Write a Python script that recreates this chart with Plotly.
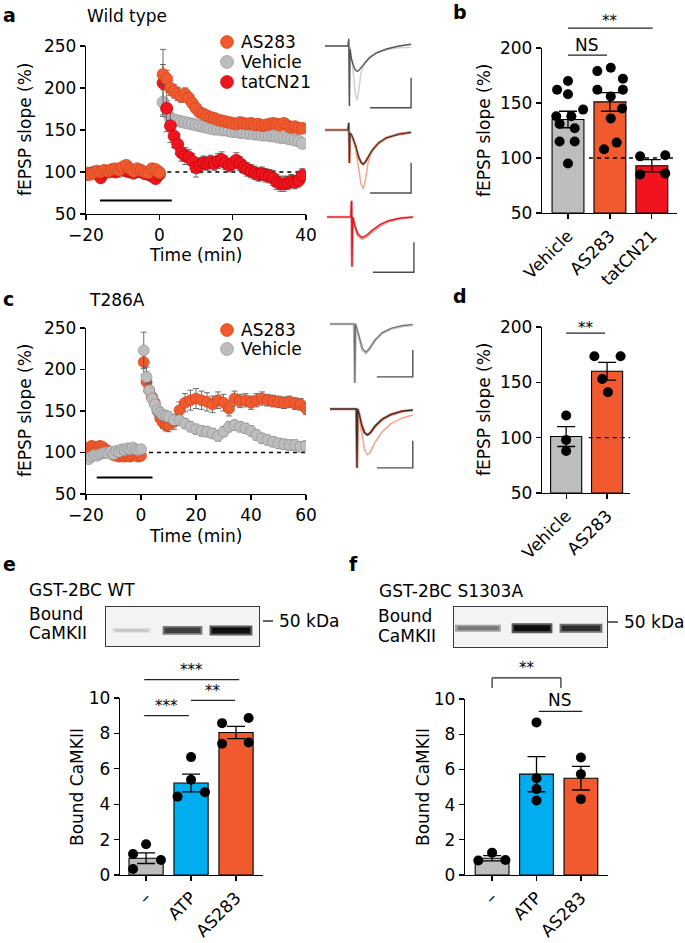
import plotly.graph_objects as go

W, H = 685, 943
FONT = "DejaVu Sans"
C_AS = "#F15A2E"
C_VEH = "#BDBDBF"
C_TAT = "#F0141E"
C_ATP = "#00AEEF"

# ---------------- data ----------------
# panel a (wild type time course)
a_time = list(range(-20, 1)) + list(range(1, 40))
a_as283 = [98, 97, 99, 101, 100, 102, 101, 103, 104, 102, 106, 108, 104, 101, 104, 102, 100, 99, 104, 103, 99,
           216, 211, 200, 196, 193, 190, 193, 188, 182, 176, 171, 169, 167, 165, 164, 162, 161, 160, 159, 158,
           157, 159, 158, 157, 158, 156, 157, 155, 156, 157, 158, 157, 156, 158, 155, 153, 154, 152, 152]
a_as283_err = [3] * 21 + [12, 10, 9, 8, 8, 7, 7, 6, 6, 6] + [5] * 29
a_vehicle = [99, 98, 100, 100, 99, 101, 100, 102, 101, 100, 103, 102, 100, 98, 101, 100, 99, 98, 100, 101, 100,
             183, 175, 164, 162, 161, 160, 159, 158, 157, 156, 155, 154, 153, 152, 151, 151, 150, 150, 149, 148,
             148, 147, 147, 146, 146, 145, 145, 144, 144, 143, 143, 142, 141, 141, 140, 139, 138, 137, 134]
a_vehicle_err = [3] * 21 + [15, 10, 7, 5, 5] + [4] * 34
a_tat = [97, 98, 99, 98, 93, 99, 100, 101, 100, 102, 103, 101, 100, 99, 101, 100, 98, 97, 95, 92, 97,
         206, 176, 155, 143, 133, 123, 119, 118, 113, 105, 108, 111, 110, 112, 110, 113, 115, 111, 108, 110,
         114, 110, 106, 103, 101, 99, 97, 98, 96, 95, 93, 88, 86, 86, 87, 89, 88, 90, 96]
a_tat_err = [4] * 21 + [40, 28, 20, 14, 12, 10, 10, 9, 9, 11, 9, 8, 8, 8, 8, 9, 9, 8, 8, 8,
                        9, 8, 8, 8, 8, 8, 8, 8, 8, 8, 9, 9, 9, 9, 8, 8, 8, 8, 8]
a_drug_bar = [-16.2, 3.4]   # application period (min)

# panel c (T286A time course)
c_time = list(range(-20, 1)) + list(range(1, 11)) + list(range(12, 61, 2))
c_as283 = [104, 106, 108, 107, 105, 108, 107, 104, 102, 100, 97, 96, 95, 96, 95, 96, 95, 96, 97, 95, 96,
           209, 185, 175, 167, 160, 150, 141, 136, 133, 133,
           137, 151, 160, 163, 165, 163, 161, 158, 163, 160, 153, 165, 162, 163, 160, 163, 165, 163, 162,
           161, 160, 161, 159, 158, 153]
c_as283_err = [4] * 21 + [15, 12, 10, 8, 8, 7, 7, 7, 7, 8] + [9, 10, 11, 12, 12, 11, 11, 10, 10, 10, 9, 9, 8,
                                                            8, 8, 8, 8, 7, 7, 7, 7, 7, 7, 7, 7]
c_vehicle = [93, 92, 95, 97, 96, 98, 99, 100, 99, 101, 98, 102, 101, 104, 103, 105, 104, 106, 104, 103, 104,
             223, 191, 175, 165, 158, 151, 148, 145, 144, 143,
             139, 139, 135, 131, 128, 126, 125, 123, 120, 125, 131, 133, 131, 129, 126, 121, 117, 115, 113,
             111, 110, 109, 109, 107, 108]
c_vehicle_err = [4] * 21 + [22, 12, 9, 8, 7, 7, 6, 6, 6, 6] + [6] * 25
c_drug_bar = [-16.1, 4.2]

# panel b
b_groups = ["Vehicle", "AS283", "tatCN21"]
b_mean = [135, 151, 93]
b_sem = [7.5, 8.5, 5.5]
b_pts = [[170, 162, 158, 144, 138, 138, 131, 127, 115, 115, 95],
         [179, 182, 172, 162, 162, 156, 145, 136, 114, 108],
         [101.5, 102.5, 85, 86]]

# panel d
d_groups = ["Vehicle", "AS283"]
d_mean = [101, 160]
d_sem = [9, 8]
d_pts = [[120, 98, 88], [173.5, 173.5, 153, 141]]

# panel e
e_groups = ["\u2013", "ATP", "AS283"]
e_mean = [0.95, 5.2, 8.05]
e_sem = [0.3, 0.5, 0.35]
e_pts = [[1.19, 1.74, 0.85, 0.34], [6.66, 5.38, 4.43, 4.68], [8.58, 8.87, 7.42, 7.49]]
e_band_intensity = [0.12, 0.78, 1.0]

# panel f
f_groups = ["\u2013", "ATP", "AS283"]
f_mean = [0.95, 5.73, 5.5]
f_sem = [0.15, 1.0, 0.67]
f_pts = [[0.82, 1.27, 0.85], [8.67, 5.5, 4.88, 4.23], [6.68, 5.73, 4.31]]
f_band_intensity = [0.5, 1.0, 0.85]

# example fEPSP traces (time ms, mV)
tr_a1_t = [0, 5.6, 5.8, 5.95, 6.1, 6.4, 6.9, 7.4, 7.8, 8.2, 8.8, 9.6, 10.8, 12.5, 15, 18, 21]
tr_a1_base = [0, 0, 0.1, -1.0, 0.0, -0.15, -0.45, -0.8, -0.9, -0.75, -0.45, -0.28, -0.18, -0.11, -0.06, -0.03, -0.02]
tr_a1_post = [0, 0, 0.12, -1.0, -0.05, -0.2, -0.32, -0.40, -0.42, -0.41, -0.36, -0.29, -0.2, -0.12, -0.05, 0.0, 0.03]
tr_a2_t = [0, 5.6, 5.8, 5.95, 6.1, 6.6, 7.4, 8.2, 8.8, 9.3, 9.8, 10.5, 11.5, 13, 15, 18, 21]
tr_a2_base = [0, 0, 0.12, -0.55, -0.05, -0.1, -0.3, -0.65, -0.9, -0.98, -0.85, -0.55, -0.32, -0.2, -0.12, -0.06, -0.03]
tr_a2_post = [0, 0, 0.12, -0.55, -0.05, -0.1, -0.25, -0.45, -0.54, -0.57, -0.54, -0.45, -0.34, -0.22, -0.13, -0.07, -0.04]
tr_a3_t = [0, 5.8, 6.0, 6.1, 6.3, 6.8, 7.5, 8.5, 9.5, 11, 13, 15, 18, 21]
tr_a3_base = [0, 0, 0.27, -0.83, 0, -0.15, -0.3, -0.36, -0.33, -0.24, -0.14, -0.07, -0.02, 0]
tr_a3_post = [0, 0, 0.27, -0.83, 0, -0.15, -0.28, -0.34, -0.31, -0.22, -0.12, -0.06, -0.02, 0]
tr_c1_t = [0, 6.7, 6.9, 7.1, 7.5, 8.2, 9.0, 10, 11, 12.5, 14.5, 17, 20, 23]
tr_c1_base = [0, 0, -1.09, 0, -0.1, -0.3, -0.48, -0.54, -0.46, -0.3, -0.17, -0.09, -0.04, -0.02]
tr_c1_post = [0, 0, -1.09, 0, -0.1, -0.28, -0.45, -0.52, -0.45, -0.3, -0.16, -0.08, -0.03, -0.01]
tr_c2_t = [0, 7.3, 7.5, 7.7, 8.1, 8.8, 9.6, 10.4, 11.2, 12.5, 14.5, 17, 20, 23]
tr_c2_base = [0, 0, -1.09, 0, -0.15, -0.45, -0.75, -0.85, -0.8, -0.62, -0.42, -0.27, -0.17, -0.11]
tr_c2_post = [0, 0, -1.09, 0, -0.1, -0.3, -0.44, -0.48, -0.44, -0.32, -0.19, -0.1, -0.04, -0.02]
scale_ms, scale_mv = 10, 0.5

# ---------------- geometry / style (pixels) ----------------
def xdom(p0, p1):
    return [p0 / W, p1 / W]

def ydom(top, bot):
    return [1 - bot / H, 1 - top / H]

def PX(x):
    return x / W

def PY(y):
    return 1 - y / H

GEOM = {
    1: dict(x=(86, 306), xr=(-20, 40), y=(46, 214), yr=(50, 250)),
    2: dict(x=(542, 677), xr=(-0.62, 2.6), y=(48, 213), yr=(50, 200)),
    3: dict(x=(86, 306), xr=(-20, 60), y=(328, 494), yr=(50, 250)),
    4: dict(x=(542, 630), xr=(-0.59, 1.56), y=(327, 493), yr=(50, 200)),
    5: dict(x=(120, 263), xr=(-0.58, 2.6), y=(698, 875), yr=(0, 10)),
    6: dict(x=(465, 608), xr=(-0.61, 2.61), y=(699, 875), yr=(0, 10)),
    7: dict(x=(106, 259), xr=(0, 3), y=(607, 646), yr=(0, 1)),
    8: dict(x=(454, 607), xr=(0, 3), y=(607, 647), yr=(0, 1)),
}
TR = {
    9: dict(box=(320, 420, 28, 112), org=(325, 46), sx=4.1, sy=60),
    10: dict(box=(320, 420, 115, 198), org=(325, 130), sx=4.1, sy=60),
    11: dict(box=(320, 420, 195, 276), org=(327, 217), sx=4.1, sy=60),
    12: dict(box=(320, 420, 315, 388), org=(330, 324), sx=3.6, sy=54),
    13: dict(box=(320, 420, 395, 475), org=(330, 409), sx=3.6, sy=54),
}
for k, g in TR.items():
    x0, x1, yt, yb = g["box"]
    ox, oy = g["org"]
    GEOM[k] = dict(x=(x0, x1), xr=((x0 - ox) / g["sx"], (x1 - ox) / g["sx"]),
                   y=(yt, yb), yr=((oy - yb) / g["sy"], (oy - yt) / g["sy"]))


def to_paper(n, xv, yv):
    g = GEOM[n]
    fx = (xv - g["xr"][0]) / (g["xr"][1] - g["xr"][0])
    fy = (yv - g["yr"][0]) / (g["yr"][1] - g["yr"][0])
    pxv = g["x"][0] + fx * (g["x"][1] - g["x"][0])
    pyv = g["y"][1] - fy * (g["y"][1] - g["y"][0])
    return pxv / W, 1 - pyv / H


def ax(n, kind):
    return ("%saxis" % kind) if n == 1 else ("%saxis%d" % (kind, n))


def ref(n, kind):
    return kind if n == 1 else "%s%d" % (kind, n)


TICKFONT = dict(family=FONT, size=17, color="black")
fig = go.Figure()
layout = dict(template="none", width=W, height=H, margin=dict(l=0, r=0, t=0, b=0, pad=0), showlegend=False,
              paper_bgcolor="white", plot_bgcolor="white", font=dict(family=FONT, size=17, color="black"),
              hovermode=False)

for n, g in GEOM.items():
    layout[ax(n, "x")] = dict(domain=xdom(*g["x"]), range=list(g["xr"]), anchor=ref(n, "y"),
                              showgrid=False, zeroline=False, fixedrange=True, automargin=False)
    layout[ax(n, "y")] = dict(domain=ydom(*g["y"]), range=list(g["yr"]), anchor=ref(n, "x"),
                              showgrid=False, zeroline=False, fixedrange=True, automargin=False)
    if n >= 9:
        layout[ax(n, "x")]["visible"] = False
        layout[ax(n, "y")]["visible"] = False

axline = dict(showline=True, linecolor="black", linewidth=1.2, ticks="outside", ticklen=5,
              tickwidth=1.2, tickcolor="black", tickfont=TICKFONT)
# time course axes
for n, tv in [(1, [-20, 0, 20, 40]), (3, [-20, 0, 20, 40, 60])]:
    layout[ax(n, "x")].update(axline, tickvals=tv, ticktext=[("\u2212%d" % -v) if v < 0 else str(v) for v in tv])
    layout[ax(n, "y")].update(axline, tickvals=[50, 100, 150, 200, 250])
# bar axes
for n, groups, ytv in [(2, b_groups, [50, 100, 150, 200]), (4, d_groups, [50, 100, 150, 200]),
                       (5, e_groups, [0, 2, 4, 6, 8, 10]), (6, f_groups, [0, 2, 4, 6, 8, 10])]:
    layout[ax(n, "x")].update(axline, tickvals=list(range(len(groups))), ticktext=groups, tickangle=-45)
    layout[ax(n, "y")].update(axline, tickvals=ytv)
# blot axes
for n in (7, 8):
    for k in ("x", "y"):
        layout[ax(n, k)].update(showline=True, mirror=True, linecolor="#3a3a3a", linewidth=1.2,
                                ticks="", showticklabels=False)

shapes = []
annotations = []


def text(x, y, s, size=17, xanchor="left", yanchor="middle", bold=False, angle=0):
    annotations.append(dict(x=PX(x), y=PY(y), xref="paper", yref="paper", text=("<b>%s</b>" % s) if bold else s,
                            showarrow=False, xanchor=xanchor, yanchor=yanchor, textangle=angle,
                            font=dict(family=FONT, size=size, color="black")))


def pline(p0, p1, width=1.2, color="black", dash=None):
    shapes.append(dict(type="line", xref="paper", yref="paper", x0=p0[0], y0=p0[1], x1=p1[0], y1=p1[1],
                       line=dict(color=color, width=width, dash=dash) if dash else dict(color=color, width=width)))


# ---------------- time courses ----------------
def timecourse(n, t, series, dash_end, bar):
    xr, yr = ref(n, "x"), ref(n, "y")
    fig.add_trace(go.Scatter(x=[0, dash_end], y=[100, 100], mode="lines", xaxis=xr, yaxis=yr,
                             line=dict(color="black", width=1.3, dash="4px,4px"), hoverinfo="skip"))
    fig.add_trace(go.Scatter(x=bar, y=[66 if n == 1 else 70] * 2, mode="lines", xaxis=xr, yaxis=yr,
                             line=dict(color="black", width=2), hoverinfo="skip"))
    for vals, errs, col, edge, size in series:
        fig.add_trace(go.Scatter(x=t, y=vals, mode="markers", xaxis=xr, yaxis=yr,
                                 marker=dict(size=size, color=col, line=dict(color=edge, width=0.6)),
                                 error_y=dict(type="data", array=errs, color="#4a4a4a", thickness=0.8, width=3)))


timecourse(1, a_time, [(a_vehicle, a_vehicle_err, C_VEH, "#8c8c8c", 12),
                       (a_tat, a_tat_err, C_TAT, "#b00000", 12),
                       (a_as283, a_as283_err, C_AS, "#c2431d", 12)], 40, a_drug_bar)
timecourse(3, c_time, [(c_as283, c_as283_err, C_AS, "#c2431d", 11),
                       (c_vehicle, c_vehicle_err, C_VEH, "#8c8c8c", 11)], 60, c_drug_bar)

# ---------------- bar charts ----------------
JIT = {
    2: [[0, -0.26, 0, 0.36, -0.28, 0.08, -0.2, 0.16, -0.2, 0.16, 0],
        [-0.3, 0.02, 0.31, -0.3, 0.31, 0.02, 0.29, 0.02, 0.16, -0.14],
        [-0.28, 0.32, -0.28, 0.32]],
    4: [[0, 0, 0], [-0.31, 0.33, -0.12, 0.02]],
    5: [[-0.29, 0, 0.33, -0.29], [0, 0, -0.3, 0.31], [-0.31, 0.28, -0.31, 0.28]],
    6: [[-0.31, 0, 0.3], [0, 0, 0, 0], [0, 0, 0]],
}


def barchart(n, mean, sem, pts, colors, dash_from=None, width=0.76):
    xr, yr = ref(n, "x"), ref(n, "y")
    if dash_from is not None:
        fig.add_trace(go.Scatter(x=[dash_from, GEOM[n]["xr"][1]], y=[100, 100], mode="lines", xaxis=xr, yaxis=yr,
                                 line=dict(color="black", width=1.3, dash="4px,4px"), hoverinfo="skip"))
    y0 = GEOM[n]["yr"][0]
    fig.add_trace(go.Bar(x=list(range(len(mean))), y=[m - y0 for m in mean], base=y0, width=width,
                         xaxis=xr, yaxis=yr,
                         marker=dict(color=colors, line=dict(color="black", width=1.1)),
                         error_y=dict(type="data", array=sem, color="black", thickness=1.3, width=9)))
    xs, ys = [], []
    for i, grp in enumerate(pts):
        for j, v in enumerate(grp):
            xs.append(i + JIT[n][i][j])
            ys.append(v)
    fig.add_trace(go.Scatter(x=xs, y=ys, mode="markers", xaxis=xr, yaxis=yr, cliponaxis=False,
                             marker=dict(size=10, color="black")))


barchart(2, b_mean, b_sem, b_pts, [C_VEH, C_AS, C_TAT], dash_from=0.5)
barchart(4, d_mean, d_sem, d_pts, [C_VEH, C_AS], dash_from=0.55)
barchart(5, e_mean, e_sem, e_pts, [C_VEH, C_ATP, C_AS])
barchart(6, f_mean, f_sem, f_pts, [C_VEH, C_ATP, C_AS])

# ---------------- blots ----------------
def blot(n, intens, centers, halfw, yb):
    xr, yr = ref(n, "x"), ref(n, "y")
    shapes.append(dict(type="rect", xref="%s domain" % xr, yref="%s domain" % yr, x0=0, x1=1, y0=0, y1=1,
                       fillcolor="#f3f3f3", line=dict(width=0), layer="below"))
    for c, hw, v in zip(centers, halfw, intens):
        g_out = int(240 - 150 * v)
        g_in = int(225 - 210 * v)
        fig.add_trace(go.Scatter(x=[c - hw, c + hw], y=[yb, yb], mode="lines", xaxis=xr, yaxis=yr,
                                 line=dict(color="rgb(%d,%d,%d)" % (g_out, g_out, g_out), width=4 + 6 * v)))
        fig.add_trace(go.Scatter(x=[c - hw * 0.9, c + hw * 0.9], y=[yb, yb], mode="lines", xaxis=xr, yaxis=yr,
                                 line=dict(color="rgb(%d,%d,%d)" % (g_in, g_in, g_in), width=2 + 4 * v)))


blot(7, e_band_intensity, [0.5, 1.5, 2.45], [0.37, 0.39, 0.42], 0.4)
blot(8, f_band_intensity, [0.47, 1.53, 2.49], [0.45, 0.4, 0.42], 0.47)

# ---------------- example traces ----------------
def traceset(n, t, base, post, c_base, c_post, w_base=1.3, w_post=1.2, extra=None):
    xr, yr = ref(n, "x"), ref(n, "y")
    if extra:
        fig.add_trace(go.Scatter(x=t, y=extra[0], mode="lines", xaxis=xr, yaxis=yr,
                                 line=dict(color=extra[1], width=extra[2])))
    fig.add_trace(go.Scatter(x=t, y=base, mode="lines", xaxis=xr, yaxis=yr, line=dict(color=c_base, width=w_base)))
    fig.add_trace(go.Scatter(x=t, y=post, mode="lines", xaxis=xr, yaxis=yr, line=dict(color=c_post, width=w_post)))


traceset(9, tr_a1_t, tr_a1_base, tr_a1_post, "#d2d2d2", "#555555", 1.6, 1.4)
traceset(10, tr_a2_t, tr_a2_base, tr_a2_post, "#F8A58C", "#3a3a3a", 1.5, 1.2, extra=(tr_a2_post, "#EC6A45", 2.4))
traceset(11, tr_a3_t, tr_a3_base, tr_a3_post, "#F08A8A", "#D7191F", 2.6, 1.2)
traceset(12, tr_c1_t, tr_c1_base, tr_c1_post, "#c4c4c4", "#6e6e6e", 2.6, 1.1)
traceset(13, tr_c2_t, tr_c2_base, tr_c2_post, "#F5A08A", "#333333", 1.5, 1.3, extra=(tr_c2_post, "#E8603A", 2.6))

for n, corner in [(9, (21, -1.03)), (10, (21, -1.05)), (11, (21.2, -0.92)), (12, (23, -0.98)), (13, (23, -1.09))]:
    tx, vy = corner
    fig.add_trace(go.Scatter(x=[tx - scale_ms, tx, tx], y=[vy, vy, vy + scale_mv], mode="lines",
                             xaxis=ref(n, "x"), yaxis=ref(n, "y"), line=dict(color="#4d4d4d", width=1.4)))

# ---------------- legends ----------------
def legend_item(x, y, col, edge, label):
    shapes.append(dict(type="circle", xref="paper", yref="paper", xsizemode="pixel", ysizemode="pixel",
                       xanchor=PX(x), yanchor=PY(y), x0=-6.5, x1=6.5, y0=-6.5, y1=6.5,
                       fillcolor=col, line=dict(color=edge, width=0.6)))
    text(x + 12, y, label)


legend_item(227, 42, C_AS, "#c2431d", "AS283")
legend_item(227, 62, C_VEH, "#8c8c8c", "Vehicle")
legend_item(227, 82, C_TAT, "#b00000", "tatCN21")
legend_item(227, 330, C_AS, "#c2431d", "AS283")
legend_item(227, 349, C_VEH, "#8c8c8c", "Vehicle")

# ---------------- significance ----------------
def sig_line(n, x0, x1, y, label, label_y, size=15, ticks_down=None):
    p0 = to_paper(n, x0, y)
    p1 = to_paper(n, x1, y)
    pline(p0, p1, width=1.2, color="#222222")
    if ticks_down is not None:
        pline(p0, to_paper(n, x0, ticks_down), width=1.2, color="#222222")
        pline(p1, to_paper(n, x1, ticks_down), width=1.2, color="#222222")
    lx, ly = to_paper(n, (x0 + x1) / 2, label_y)
    annotations.append(dict(x=lx, y=ly, xref="paper", yref="paper", text=label, showarrow=False,
                            xanchor="center", yanchor="middle", font=dict(family=FONT, size=size, color="black")))


sig_line(2, 0, 0.93, 193.6, "NS", 203, size=17)
sig_line(2, 0, 2.02, 218, "**", 224.5)
sig_line(4, 0, 0.95, 194.5, "**", 199.5)
sig_line(5, -0.04, 0.95, 9.0, "***", 9.55)
sig_line(5, 1.0, 1.98, 9.87, "**", 10.4)
sig_line(5, -0.04, 2.07, 11.04, "***", 11.6)
sig_line(6, 0, 1.55, 11.2, "**", 11.75, ticks_down=10.63)
sig_line(6, 1.05, 2.03, 9.3, "NS", 9.96, size=17)

# ---------------- texts ----------------
text(1, 15, "a", size=19, bold=True)
text(451, 12, "b", size=19, bold=True)
text(1, 299, "c", size=19, bold=True)
text(451, 296, "d", size=19, bold=True)
text(1, 564, "e", size=19, bold=True)
text(347, 564, "f", size=19, bold=True)
text(85, 16, "Wild type")
text(87, 300, "T286A")
text(196, 255, "Time (min)", xanchor="center")
text(196, 536, "Time (min)", xanchor="center")
text(25, 130, "fEPSP slope (%)", xanchor="center", angle=-90)
text(25, 411, "fEPSP slope (%)", xanchor="center", angle=-90)
text(484, 131, "fEPSP slope (%)", xanchor="center", angle=-90)
text(484, 410, "fEPSP slope (%)", xanchor="center", angle=-90)
text(77, 787, "Bound CaMKII", xanchor="center", angle=-90)
text(423, 787, "Bound CaMKII", xanchor="center", angle=-90)
text(27, 590, "GST-2BC WT")
text(377, 591, "GST-2BC S1303A")
text(27, 614, "Bound")
text(27, 633, "CaMKII")
text(376, 616, "Bound")
text(376, 636, "CaMKII")
pline((PX(263), PY(621)), (PX(273), PY(621)), width=1.2)
pline((PX(608), PY(622)), (PX(618), PY(622)), width=1.2)
text(277, 621, "50 kDa")
text(622, 622, "50 kDa")

layout["shapes"] = shapes
layout["annotations"] = annotations
fig.update_layout(**layout)
fig.write_html("out.html", config={"displayModeBar": False, "staticPlot": True},
               post_script="document.body.style.margin='0px';document.body.style.padding='0px';")
